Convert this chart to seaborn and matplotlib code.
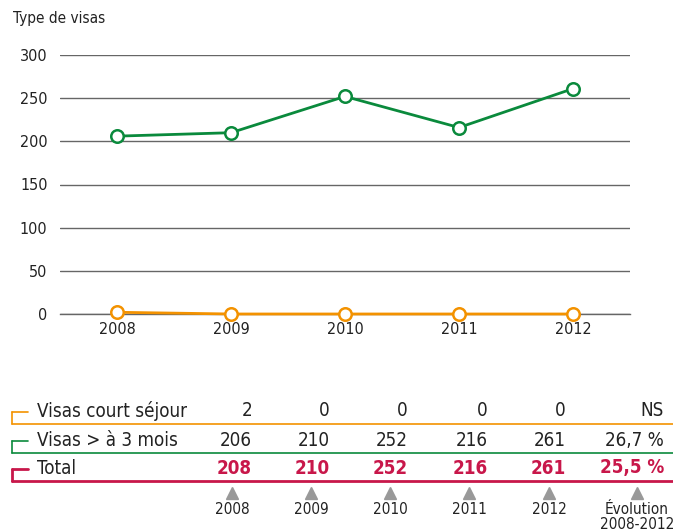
import matplotlib
matplotlib.use("Agg")
import pandas as pd
import seaborn as sns
from matplotlib import pyplot as plt
from matplotlib.lines import Line2D

years = ["2008", "2009", "2010", "2011", "2012"]
court_sejour = [2, 0, 0, 0, 0]
plus_3_mois = [206, 210, 252, 216, 261]
total = [208, 210, 252, 216, 261]
evolution = ["NS", "26,7 %", "25,5 %"]
row_labels = ["Visas court séjour", "Visas > à 3 mois", "Total"]
yticks = [0, 50, 100, 150, 200, 250, 300]

ORANGE = "#f39200"
GREEN = "#0a8a3c"
CRIMSON = "#c8174a"
GRAY = "#666666"
TEXT = "#222222"

W, H = 673, 531


def fx(x):
    return x / W


def fy(y):
    return 1 - y / H


sns.set_theme(style="white")
plt.rcParams["font.family"] = ["Liberation Sans Narrow", "DejaVu Sans"]
plt.rcParams["font.stretch"] = "condensed"

fig = plt.figure(figsize=(W / 100, H / 100), dpi=100)
ax = fig.add_axes([fx(60), fy(314), fx(630) - fx(60), fy(55) - fy(314)])

df = pd.DataFrame({
    "year": years * 2,
    "value": court_sejour + plus_3_mois,
    "serie": [row_labels[0]] * 5 + [row_labels[1]] * 5,
})

for name, color in [(row_labels[1], GREEN), (row_labels[0], ORANGE)]:
    sns.lineplot(
        data=df[df["serie"] == name], x="year", y="value", sort=False,
        color=color, linewidth=2.0, marker="o", markersize=9,
        markerfacecolor="white", markeredgecolor=color, markeredgewidth=1.8,
        ax=ax, zorder=5, clip_on=False,
    )

ax.set_xlim(-0.5, len(years) - 0.5)
ax.set_ylim(0, 300)
ax.set_xlabel("")
ax.set_ylabel("")
ax.set_yticks(yticks)
ax.set_yticklabels([str(v) for v in yticks], fontsize=11.5, color=TEXT)
ax.tick_params(axis="y", length=0, pad=9)
ax.yaxis.grid(True, color=GRAY, linewidth=1.0)
ax.xaxis.grid(False)
ax.set_xticks([i - 0.5 for i in range(len(years) + 1)])
ax.set_xticklabels([])
ax.set_xticks(range(len(years)), minor=True)
ax.set_xticklabels(years, minor=True, fontsize=11.5, color=TEXT)
ax.tick_params(axis="x", which="major", length=5, width=1, color=GRAY, direction="out")
ax.tick_params(axis="x", which="minor", length=0, pad=6)
for s in ["top", "right", "left"]:
    ax.spines[s].set_visible(False)
ax.spines["bottom"].set_color(GRAY)
ax.spines["bottom"].set_linewidth(1.0)

fig.text(fx(13), fy(18), "Type de visas", fontsize=11, color=TEXT, va="center", ha="left")

# table below the chart
col_x = [252, 330, 408, 488, 566, 664]
row_y = [411, 440, 468]
line_y = [424, 453, 481]
row_colors = [ORANGE, GREEN, CRIMSON]
row_values = [court_sejour, plus_3_mois, total]

for i in range(3):
    c = row_colors[i]
    lw = 2.0 if i == 2 else 1.2
    fig.add_artist(Line2D([fx(12), fx(28)], [fy(row_y[i] + 1), fy(row_y[i] + 1)], color=c, lw=lw, transform=fig.transFigure))
    fig.add_artist(Line2D([fx(12), fx(12)], [fy(row_y[i] + 1), fy(line_y[i])], color=c, lw=lw, transform=fig.transFigure))
    fig.add_artist(Line2D([fx(12), fx(673)], [fy(line_y[i]), fy(line_y[i])], color=c, lw=lw, transform=fig.transFigure))
    bold = i == 2
    tcolor = CRIMSON if bold else TEXT
    weight = "bold" if bold else "normal"
    fig.text(fx(37), fy(row_y[i]), row_labels[i], fontsize=13.5, color=TEXT, va="center", ha="left")
    for j, v in enumerate(row_values[i]):
        fig.text(fx(col_x[j]), fy(row_y[i]), str(v), fontsize=13.5, color=tcolor,
                 fontweight=weight, va="center", ha="right")
    fig.text(fx(col_x[5]), fy(row_y[i]), evolution[i], fontsize=13.5, color=tcolor,
             fontweight=weight, va="center", ha="right")

tri_x = [232, 311, 390, 469, 549, 637]
foot = years + ["Évolution\n2008-2012"]
for x, lab in zip(tri_x, foot):
    fig.add_artist(Line2D([fx(x)], [fy(493)], marker="^", markersize=8, color="#999999",
                          linestyle="none", transform=fig.transFigure))
    fig.text(fx(x), fy(502), lab, fontsize=11, color=TEXT, va="top", ha="center",
             linespacing=1.0)

fig.savefig("out.png", dpi=100)
